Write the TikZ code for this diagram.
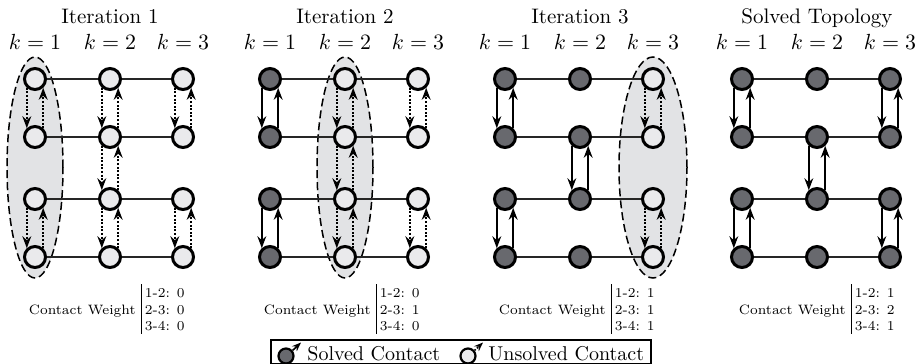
\documentclass[tikz,border=0pt]{standalone}
\usetikzlibrary{arrows.meta}
\definecolor{solvedfill}{RGB}{104,105,110}
\definecolor{unsolvedfill}{RGB}{234,234,236}
\definecolor{ellfill}{RGB}{226,227,229}
\tikzset{
  contact/.style={circle, draw=black, line width=1.5pt, minimum size=10.5pt, inner sep=0pt},
  solved/.style={contact, fill=solvedfill},
  unsolved/.style={contact, fill=unsolvedfill},
  link/.style={line width=0.6pt, black!85},
  sarrow/.style={line width=1pt, -{Stealth[length=6pt,width=4.4pt,inset=2pt]}},
  uarrow/.style={sarrow, dash pattern=on 1pt off 0.8pt},
  title/.style={font=\fontsize{10.5}{12}\selectfont, anchor=base, inner sep=0pt},
  weight/.style={font=\fontsize{6.8}{8.2}\selectfont, inner sep=0pt},
  legendtext/.style={font=\fontsize{10}{12}\selectfont, inner sep=0pt, anchor=base west},
  legarrow/.style={line width=0.8pt, -{Stealth[length=4.5pt,width=3.4pt,inset=1.5pt]}},
  region/.style={draw=black, fill=ellfill, line width=0.75pt, dash pattern=on 4pt off 2pt},
}
\newcommand\mypanel[5]{%
  \foreach \r/\yy in {1/79,2/137,3/199,4/257} {
    \node[#3] (#1a\r) at (#2,\yy) {};
    \node[#4] (#1b\r) at (#2+75,\yy) {};
    \node[#5] (#1c\r) at (#2+148,\yy) {};
  }
  \foreach \r in {1,...,4} {\draw[link] (#1a\r) -- (#1b\r) (#1b\r) -- (#1c\r);}
}
\newcommand\updown[3]{\draw[#1] (#2.-133) -- (#3.133); \draw[#1] (#3.47) -- (#2.-47);}
\newcommand\weights[5]{%
  \node[weight, anchor=base east] (#1w) at (#2-5,314) {Contact Weight};
  \node[weight, anchor=base west] (#1w1) at (#2+3.5,297.5) {1-2: #3};
  \node[weight, anchor=base west] (#1w2) at (#2+3.5,314) {2-3: #4};
  \node[weight, anchor=base west] (#1w3) at (#2+3.5,330.5) {3-4: #5};
  \draw[line width=0.5pt] (#2,284) -- (#2,334);
}
\begin{document}
\begin{tikzpicture}[x=0.5pt,y=-0.5pt]
\useasboundingbox (0,0) rectangle (917,364);
% focus regions
\draw[region] (35,167.5) ellipse [x radius=14pt, y radius=55.25pt];
\draw[region] (345,167.5) ellipse [x radius=14pt, y radius=55.25pt];
\draw[region] (653,167.5) ellipse [x radius=17pt, y radius=55.25pt];
% grids
\mypanel{A}{35}{unsolved}{unsolved}{unsolved}
\mypanel{B}{270}{solved}{unsolved}{unsolved}
\mypanel{C}{505}{solved}{solved}{unsolved}
\mypanel{D}{742}{solved}{solved}{solved}
% arrows panel A
\updown{uarrow}{Aa1}{Aa2}\updown{uarrow}{Aa3}{Aa4}
\updown{uarrow}{Ab1}{Ab2}\updown{uarrow}{Ab2}{Ab3}\updown{uarrow}{Ab3}{Ab4}
\updown{uarrow}{Ac1}{Ac2}\updown{uarrow}{Ac3}{Ac4}
% panel B
\updown{sarrow}{Ba1}{Ba2}\updown{sarrow}{Ba3}{Ba4}
\updown{uarrow}{Bb1}{Bb2}\updown{uarrow}{Bb2}{Bb3}\updown{uarrow}{Bb3}{Bb4}
\updown{uarrow}{Bc1}{Bc2}\updown{uarrow}{Bc3}{Bc4}
% panel C
\updown{sarrow}{Ca1}{Ca2}\updown{sarrow}{Ca3}{Ca4}
\updown{sarrow}{Cb2}{Cb3}
\updown{uarrow}{Cc1}{Cc2}\updown{uarrow}{Cc3}{Cc4}
% panel D
\updown{sarrow}{Da1}{Da2}\updown{sarrow}{Da3}{Da4}
\updown{sarrow}{Db2}{Db3}
\updown{sarrow}{Dc1}{Dc2}\updown{sarrow}{Dc3}{Dc4}
% titles
\node[title] (tA) at (110,24) {Iteration 1};
\node[title] (tB) at (345,24) {Iteration 2};
\node[title] (tC) at (580,24) {Iteration 3};
\node[title] (tD) at (817,24) {Solved Topology};
\foreach \p/\x in {A/35,B/270,C/505,D/742} {
  \node[title] (k\p1) at (\x,49) {$k=1$};
  \node[title] (k\p2) at (\x+75,49) {$k=2$};
  \node[title] (k\p3) at (\x+148,49) {$k=3$};
}
% contact weights
\weights{A}{141}{0}{0}{0}
\weights{B}{376}{0}{1}{0}
\weights{C}{611}{1}{1}{1}
\weights{D}{851}{1}{2}{1}
% legend
\draw[line width=0.6pt] (271,340) rectangle (651,363.3);
\node[solved, minimum size=7.5pt, line width=1.1pt] (ls) at (286,356) {};
\coordinate (lsend) at (301,342.5);
\draw[legarrow] (ls.40) -- (lsend);
\node[legendtext] (lst) at (307,360) {Solved Contact};
\node[unsolved, minimum size=7.5pt, line width=1.1pt] (lu) at (468,356) {};
\coordinate (luend) at (483,342.5);
\draw[legarrow, dash pattern=on 0.8pt off 0.8pt] (lu.40) -- (luend);
\node[legendtext] (lut) at (488,360) {Unsolved Contact};
\end{tikzpicture}
\end{document}
